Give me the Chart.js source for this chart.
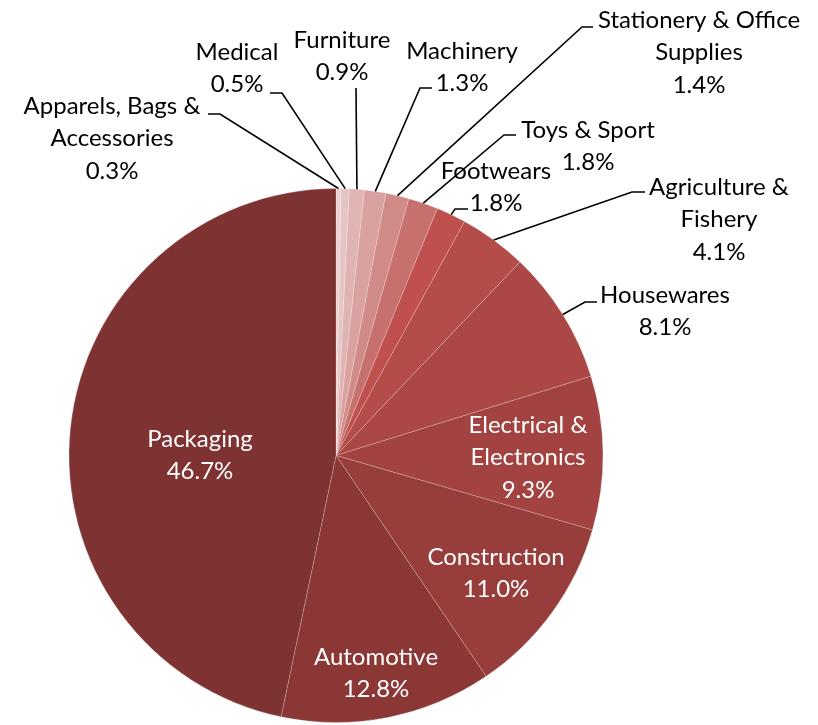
<!DOCTYPE html>
<html lang="en">
<head>
    <meta charset="UTF-8">
    <title>Plastics Demand by Sector</title>
    <script src="https://cdn.jsdelivr.net/npm/chart.js"></script>
    <style>
        html, body {
            margin: 0;
            padding: 0;
            background-color: #ffffff;
        }
        .chart-box {
            width: 818px;
            height: 725px;
        }
    </style>
</head>
<body>

<div class="chart-box">
    <canvas id="sectorChart"></canvas>
</div>

<script>
    // Sectors, clockwise from 12 o'clock
    const sectors = [
        'Apparels, Bags & Accessories', 'Medical', 'Furniture', 'Machinery',
        'Stationery & Office Supplies', 'Toys & Sport', 'Footwears',
        'Agriculture & Fishery', 'Housewares', 'Electrical & Electronics',
        'Construction', 'Automotive', 'Packaging'
    ];
    const shares = [0.3, 0.5, 0.9, 1.3, 1.4, 1.8, 1.8, 4.1, 8.1, 9.3, 11.0, 12.8, 46.7];

    // How each label's name is wrapped
    const nameLines = [
        ['Apparels, Bags &', 'Accessories'], ['Medical'], ['Furniture'], ['Machinery'],
        ['Stationery & Office', 'Supplies'], ['Toys & Sport'], ['Footwears'],
        ['Agriculture &', 'Fishery'], ['Housewares'], ['Electrical &', 'Electronics'],
        ['Construction'], ['Automotive'], ['Packaging']
    ];

    const sliceColors = [
        '#e9d2d1', '#e5c5c4', '#dfb4b3', '#d9a2a0', '#d08b89', '#c7716e', '#c0504d',
        '#b44c49', '#ab4845', '#a24341', '#973d3c', '#8a3736', '#7f3232'
    ];

    // Label placement (Excel manual layout): text centre x, first line y,
    // leader elbow and the x where the short horizontal piece ends
    const labelLayout = [
        { x: 112, y: 106, elbow: [220, 114], tail: 208 },
        { x: 237, y: 52,  elbow: [282, 93],  tail: 270 },
        { x: 342, y: 40,  elbow: [356, 88],  tail: null },
        { x: 462, y: 51,  elbow: [420, 88],  tail: 432 },
        { x: 699, y: 20,  elbow: [582, 27],  tail: 593 },
        { x: 588, y: 130, elbow: [504, 135], tail: 516 },
        { x: 496, y: 171, elbow: [455, 209], tail: 468 },
        { x: 719, y: 187, elbow: [632, 192], tail: 645 },
        { x: 665, y: 295, elbow: [585, 302], tail: 597 },
        { x: 528, y: 425, inside: true },
        { x: 496, y: 557, inside: true },
        { x: 376, y: 657, inside: true },
        { x: 200, y: 439, inside: true }
    ];

    const lineGap = 32.5;
    const labelFont = '24px Lato, "Open Sans", sans-serif';

    const pieLabels = {
        id: 'pieLabels',
        afterDatasetsDraw(chart) {
            const ctx = chart.ctx;
            const arcs = chart.getDatasetMeta(0).data;
            ctx.save();
            ctx.font = labelFont;
            ctx.textAlign = 'center';
            ctx.textBaseline = 'middle';
            arcs.forEach((arc, i) => {
                const lay = labelLayout[i];
                const lines = nameLines[i].concat([shares[i].toFixed(1) + '%']);

                if (!lay.inside) {
                    // leader line from the middle of the slice's rim
                    const mid = (arc.startAngle + arc.endAngle) / 2;
                    const sx = arc.x + Math.cos(mid) * arc.outerRadius;
                    const sy = arc.y + Math.sin(mid) * arc.outerRadius;
                    ctx.strokeStyle = '#000000';
                    ctx.lineWidth = 1.6;
                    ctx.beginPath();
                    ctx.moveTo(sx, sy);
                    ctx.lineTo(lay.elbow[0], lay.elbow[1]);
                    if (lay.tail !== null) {
                        ctx.lineTo(lay.tail, lay.elbow[1]);
                    }
                    ctx.stroke();
                }

                ctx.fillStyle = lay.inside ? '#ffffff' : '#000000';
                lines.forEach((txt, k) => {
                    ctx.fillText(txt, lay.x, lay.y + k * lineGap);
                });
            });
            ctx.restore();
        }
    };

    const ctx = document.getElementById('sectorChart').getContext('2d');
    new Chart(ctx, {
        type: 'pie',
        data: {
            labels: sectors,
            datasets: [{
                data: shares,
                backgroundColor: sliceColors,
                borderColor: 'rgba(255, 255, 255, 0.35)',
                borderWidth: 0.6,
                hoverOffset: 0
            }]
        },
        options: {
            responsive: true,
            maintainAspectRatio: false,
            animation: false,
            radius: 267,
            layout: {
                padding: { left: 69, right: 215, top: 188, bottom: 2 }
            },
            plugins: {
                legend: { display: false },
                tooltip: { enabled: false }
            }
        },
        plugins: [pieLabels]
    });
</script>

</body>
</html>
